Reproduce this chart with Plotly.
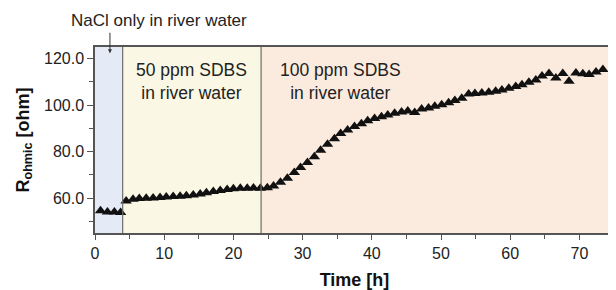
import plotly.graph_objects as go

# ---- data ----
time_nacl = [0.8, 1.8, 2.8, 3.7]
r_nacl = [54.6, 54.0, 54.0, 53.8]

time_sdbs = [4.5, 5.5, 6.4, 7.4, 8.4, 9.4, 10.3, 11.3, 12.3, 13.2, 14.2, 15.2, 16.1, 17.1,
             18.1, 19.1, 20.0, 21.0, 22.0, 22.9, 23.9, 24.9, 25.8, 26.8, 27.8, 28.8, 29.7,
             30.7, 31.7, 32.6, 33.6, 34.6, 35.5, 36.5, 37.5, 38.5, 39.4, 40.4, 41.4, 42.3,
             43.3, 44.3, 45.2, 46.2, 47.2, 48.2, 49.1, 50.1, 51.1, 52.0, 53.0, 54.0, 54.9,
             55.9, 56.9, 57.9, 58.8, 59.8, 60.8, 61.7, 62.7, 63.7, 64.6, 65.6, 66.6, 67.6,
             68.5, 69.5, 70.5, 71.4, 72.4, 73.4]
r_sdbs = [58.8, 59.5, 59.8, 60.0, 60.1, 60.3, 60.5, 60.7, 60.8, 61.0, 61.3, 61.8, 62.3, 62.8,
          63.3, 63.7, 64.0, 64.2, 64.3, 64.4, 64.3, 64.5, 65.2, 66.8, 68.5, 71.0, 73.2,
          75.3, 77.8, 80.6, 83.2, 85.5, 87.8, 89.3, 90.8, 92.0, 93.3, 94.3, 95.0, 95.8,
          96.5, 97.0, 97.5, 96.8, 98.3, 98.8, 99.5, 100.2, 101.0, 102.0, 103.0, 104.8, 105.0,
          105.2, 105.5, 106.0, 106.5, 107.3, 108.0, 108.8, 109.8, 110.8, 112.5, 113.6, 111.7, 113.6,
          110.3, 113.8, 113.5, 113.2, 114.2, 115.3]

region_bounds = [0, 4, 24, 75]
region_colors = ["#e4ebf7", "#faf8e5", "#fbebde"]
y_ticks = [60, 80, 100, 120]
x_ticks = [0, 10, 20, 30, 40, 50, 60, 70]

fig = go.Figure()

shapes = []
for i, c in enumerate(region_colors):
    shapes.append(dict(type="rect", xref="x", yref="paper", x0=region_bounds[i], x1=region_bounds[i + 1],
                       y0=0, y1=1, fillcolor=c, line=dict(width=0), layer="below"))
for xb in region_bounds[1:3]:
    shapes.append(dict(type="line", xref="x", yref="paper", x0=xb, x1=xb, y0=0, y1=1,
                       line=dict(color="#6b6b6b", width=1.2), layer="above"))

fig.add_trace(go.Scatter(x=time_nacl + time_sdbs, y=r_nacl + r_sdbs, mode="markers",
                         marker=dict(symbol="triangle-up", size=10, color="#111111",
                                     line=dict(width=0)),
                         showlegend=False, hoverinfo="skip"))

# page body adds an 8px offset, so the figure is sized to fit the window
fig.update_layout(
    width=608, height=282,
    margin=dict(l=87, r=2, t=39, b=57),
    paper_bgcolor="white", plot_bgcolor="white",
    shapes=shapes,
    font=dict(family="Liberation Sans, Arial, sans-serif", color="#222222"),
    xaxis=dict(range=[0, 75], tickvals=x_ticks, ticks="outside", ticklen=5, tickcolor="#555",
               showline=True, linecolor="#555", linewidth=1.5, mirror=True, showgrid=False,
               zeroline=False, automargin=False, tickfont=dict(size=16, color="#222"),
               minor=dict(tickvals=[5, 15, 25, 35, 45, 55, 65], ticks="outside", ticklen=4, tickcolor="#555"),
               title=dict(text="<b>Time [h]</b>", font=dict(size=18, color="#111"), standoff=13)),
    yaxis=dict(range=[45, 125], tickvals=y_ticks, tickformat=".1f", ticks="outside", ticklen=6,
               tickcolor="#555", showline=True, linecolor="#555", linewidth=1.5, mirror=True,
               showgrid=False, zeroline=False, automargin=False, tickfont=dict(size=16, color="#222"),
               minor=dict(tickvals=[50, 70, 90, 110], ticks="outside", ticklen=4, tickcolor="#555"),
               title=dict(text="<b>R<sub>ohmic</sub> [ohm]</b>", font=dict(size=18, color="#111"), standoff=10)),
)

fig.add_annotation(xref="paper", yref="paper", x=0.124, y=1.14,
                   xanchor="center", yanchor="middle",
                   text="NaCl only in river water", showarrow=False,
                   font=dict(size=17, color="#222"))
fig.add_annotation(x=2.16, y=122.3, xref="x", yref="y", text="", showarrow=True,
                   ax=0, ay=-22, arrowhead=2, arrowsize=0.8, arrowwidth=1, arrowcolor="#333")
fig.add_annotation(x=13.9, y=110, xref="x", yref="y", text="50 ppm SDBS<br>in river water",
                   xanchor="center", yanchor="middle",
                   showarrow=False, font=dict(size=17.5, color="#222"), align="center")
fig.add_annotation(x=35.5, y=110, xref="x", yref="y", text="100 ppm SDBS<br>in river water",
                   xanchor="center", yanchor="middle",
                   showarrow=False, font=dict(size=17.5, color="#222"), align="center")

fig.write_html("out.html")
